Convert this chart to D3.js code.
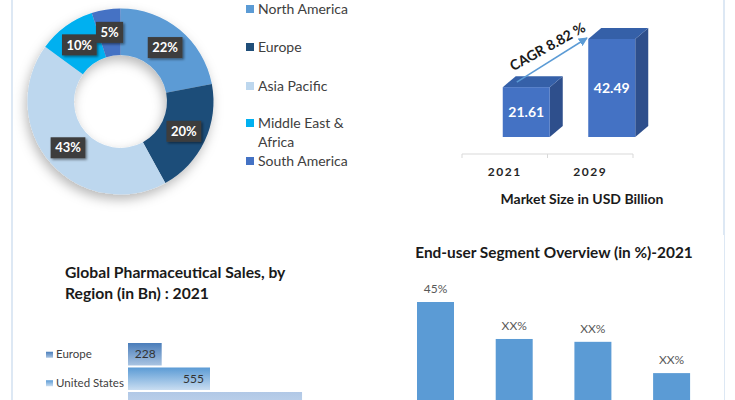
<!DOCTYPE html>
<html><head><meta charset="utf-8">
<script src="https://cdn.jsdelivr.net/npm/d3@7"></script>
<style>html,body{margin:0;padding:0;background:#fff;}svg{display:block;font-family:Lato,"Open Sans",sans-serif;}</style>
</head><body>
<script>
// ---------- data ----------
const regionNames = ["North America","Europe","Asia Pacific","Middle East & Africa","South America"];
const regionShares = [22,20,43,10,5];
const regionColors = ["#5B9BD5","#1F4E79","#BDD7EE","#00B0F0","#4472C4"];

const marketYears = ["2021","2029"];
const marketValues = [21.61,42.49];
const cagrLabel = "CAGR 8.82 %";

const salesRegions = ["Europe","United States","Global"];
const salesValues = [228,555,1178];

const endUserCats = ["Segment A","Segment B","Segment C","Segment D"];
const endUserValues = [45,32,31,20];
const endUserLabels = ["45%","XX%","XX%","XX%"];

// ---------- svg ----------
const W=735,H=400;
const svg=d3.select("body").append("svg").attr("width",W).attr("height",H);
const defs=svg.append("defs");
const f1=defs.append("filter").attr("id","dshadow").attr("x","-30%").attr("y","-30%").attr("width","160%").attr("height","160%");
f1.append("feDropShadow").attr("dx",-2).attr("dy",5).attr("stdDeviation",6).attr("flood-color","#000").attr("flood-opacity",0.28);
const f2=defs.append("filter").attr("id","lshadow").attr("x","-20%").attr("y","-20%").attr("width","150%").attr("height","160%");
f2.append("feDropShadow").attr("dx",1.5).attr("dy",1.5).attr("stdDeviation",1).attr("flood-color","#000").attr("flood-opacity",0.45);

// panel borders
svg.append("rect").attr("x",11).attr("y",0).attr("width",2).attr("height",H).attr("fill","#DDE8F4");
svg.append("rect").attr("x",723).attr("y",0).attr("width",2).attr("height",235).attr("fill","#DDE8F4");
svg.append("rect").attr("x",724).attr("y",235).attr("width",1).attr("height",165).attr("fill","#DDE8F4");

// ---------- donut ----------
const cx=120.5, cy=101.5, rO=93, rI=46.5;
const pie=d3.pie().sort(null).value(d=>d)(regionShares);
const arc=d3.arc().innerRadius(rI).outerRadius(rO);
const lblArc=d3.arc().innerRadius(70).outerRadius(70);
const dg=svg.append("g").attr("transform",`translate(${cx},${cy})`);
dg.append("g").attr("filter","url(#dshadow)").selectAll("path").data(pie).join("path")
  .attr("d",arc).attr("fill",(d,i)=>regionColors[i]);
const lg=dg.selectAll("g.lbl").data(pie).join("g").attr("class","lbl")
  .attr("transform",d=>`translate(${lblArc.centroid(d)})`);
lg.each(function(d){
  const g=d3.select(this);
  const t=g.append("text").attr("text-anchor","middle").attr("dy","0.36em")
    .attr("fill","#fff").attr("font-weight","bold").attr("font-size",13).text(d.data+"%");
  const bw=t.node().getComputedTextLength()+9;
  g.insert("rect","text").attr("x",-bw/2).attr("y",-10.5).attr("width",bw).attr("height",21)
    .attr("fill","#3D3D3D").attr("filter","url(#lshadow)");
});

// legend
const leg=svg.append("g");
const legY=[9,47,86,123,161];
regionNames.forEach((n,i)=>{
  leg.append("rect").attr("x",246).attr("y",legY[i]-4).attr("width",8).attr("height",8).attr("fill",regionColors[i]);
  const t=leg.append("text").attr("x",258).attr("y",legY[i]).attr("dy","0.35em").attr("font-size",14).attr("fill","#404040");
  if(n.indexOf("&")>=0){
    t.append("tspan").attr("x",258).text("Middle East &");
    t.append("tspan").attr("x",258).attr("dy",19).text("Africa");
  } else t.text(n);
});

// ---------- market size 3D bars ----------
const xM=d3.scaleBand().domain(marketYears).range([462,633]);
const yM=d3.scaleLinear().domain([0,42.49]).range([137,39]);
const dx=13, dyd=-11, bwM=47;
const mg=svg.append("g");
marketYears.forEach((yr,i)=>{
  const x0=xM(yr)+xM.bandwidth()/2-2, x1=x0+bwM, yt=yM(marketValues[i]), yb=yM(0);
  mg.append("path").attr("d",`M${x1},${yb}L${x1+dx},${yb+dyd}L${x1+dx},${yt+dyd}L${x1},${yt}Z`).attr("fill","#2E4F8C");
  mg.append("path").attr("d",`M${x0},${yt}L${x0+dx},${yt+dyd}L${x1+dx},${yt+dyd}L${x1},${yt}Z`).attr("fill","#3560A8");
  mg.append("rect").attr("x",x0).attr("y",yt).attr("width",bwM).attr("height",yb-yt).attr("fill","#4472C4");
  mg.append("text").attr("x",x0+bwM/2).attr("y",(yt+yb)/2).attr("dy","0.36em").attr("text-anchor","middle")
    .attr("fill","#fff").attr("font-weight","bold").attr("font-size",14).text(marketValues[i].toFixed(2));
  mg.append("text").attr("x",xM(yr)+xM.bandwidth()/2).attr("y",172).attr("dy","0.35em").attr("text-anchor","middle")
    .attr("fill","#262626").attr("font-weight","bold").attr("font-size",12).attr("letter-spacing",1.5).text(yr);
});
mg.append("line").attr("x1",462).attr("x2",633).attr("y1",154).attr("y2",154).attr("stroke","#D9D9D9");
[462, xM("2029"), 633].forEach(x=>mg.append("line").attr("x1",x).attr("x2",x).attr("y1",154).attr("y2",158).attr("stroke","#D9D9D9"));
mg.append("text").attr("x",582).attr("y",199).attr("dy","0.35em").attr("text-anchor","middle")
  .attr("fill","#1a1a1a").attr("font-weight","bold").attr("font-size",14).text("Market Size in  USD Billion");
// CAGR arrow
defs.append("marker").attr("id","ah").attr("viewBox","0 0 10 10").attr("refX",9).attr("refY",5)
  .attr("markerWidth",6).attr("markerHeight",6).attr("orient","auto")
  .append("path").attr("d","M0,0L10,5L0,10Z").attr("fill","#5B9BD5");
const ax0=xM("2021")+xM.bandwidth()/2+12, ay0=yM(marketValues[0])-5;
mg.append("line").attr("x1",ax0).attr("y1",ay0).attr("x2",587).attr("y2",38)
  .attr("stroke","#5B9BD5").attr("stroke-width",1.5).attr("marker-end","url(#ah)");
mg.append("text").attr("transform","translate(550,51) rotate(-29)").attr("text-anchor","middle")
  .attr("fill","#1a1a1a").attr("font-weight","bold").attr("font-size",14).text(cagrLabel);

// ---------- global pharma sales ----------
const sg=svg.append("g");
sg.append("text").attr("x",65).attr("y",278).attr("font-weight","bold").attr("font-size",15.7).attr("fill","#1a1a1a").text("Global Pharmaceutical Sales, by");
sg.append("text").attr("x",65).attr("y",299).attr("font-weight","bold").attr("font-size",15.7).attr("fill","#1a1a1a").text("Region (in Bn) : 2021");
const xS=d3.scaleLinear().domain([0,555]).range([128,210]);
const yS=d3.scaleBand().domain(salesRegions).range([343,414.5]).paddingInner(0.082).paddingOuter(0);
const grads=[["#4A7DBA","#A9C4E2"],["#5B9BD5","#C9DDF1"],["#B1C8E6","#C6D8EE"]];
grads.forEach((g,i)=>{
  const lgr=defs.append("linearGradient").attr("id","sg"+i).attr("x1",0).attr("y1",0).attr("x2",0).attr("y2",1);
  lgr.append("stop").attr("offset","0%").attr("stop-color",g[0]);
  lgr.append("stop").attr("offset","100%").attr("stop-color",g[1]);
});
salesRegions.forEach((r,i)=>{
  const y=yS(r), h=yS.bandwidth();
  sg.append("rect").attr("x",xS(0)).attr("y",y).attr("width",xS(salesValues[i])-xS(0)).attr("height",h).attr("fill",`url(#sg${i})`);
  if(i<2){
    sg.append("text").attr("x",xS(salesValues[i])-6).attr("y",y+h/2).attr("dy","0.35em").attr("text-anchor","end")
      .attr("font-size",12).attr("fill","#333").text(salesValues[i]);
    sg.append("rect").attr("x",46).attr("y",y+h/2-2.5+(i==0?0:4)).attr("width",7).attr("height",6).attr("fill",`url(#sg${i})`);
    sg.append("text").attr("x",56).attr("y",y+h/2+(i==0?0:4)).attr("dy","0.35em").attr("font-size",11.5).attr("fill","#404040").text(r);
  }
});

// ---------- end-user segment ----------
const eg=svg.append("g");
eg.append("text").attr("x",554).attr("y",258).attr("text-anchor","middle").attr("font-weight","bold").attr("font-size",15.4).attr("fill","#1a1a1a")
  .text("End-user Segment Overview (in %)-2021");
const xE=d3.scaleBand().domain(endUserCats).range([396.15,396.15+4*78.7]).paddingInner(0.53).paddingOuter(0.265);
const yE=d3.scaleLinear().domain([0,45]).range([430,302]);
endUserCats.forEach((c,i)=>{
  eg.append("rect").attr("x",xE(c)).attr("y",yE(endUserValues[i])).attr("width",xE.bandwidth()).attr("height",yE(0)-yE(endUserValues[i])).attr("fill","#5B9BD5");
  eg.append("text").attr("x",xE(c)+xE.bandwidth()/2).attr("y",yE(endUserValues[i])-9).attr("text-anchor","middle")
    .attr("font-size",12).attr("fill","#595959").text(endUserLabels[i]);
});
</script>
</body></html>
